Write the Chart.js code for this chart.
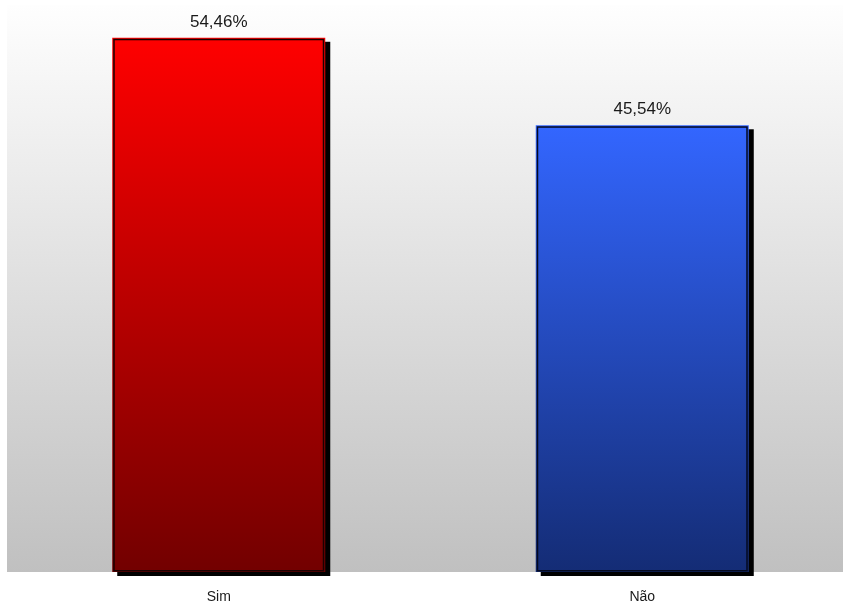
<!DOCTYPE html>
<html lang="pt">
<head>
<meta charset="utf-8">
<title>Sim / Não</title>
<script src="https://cdn.jsdelivr.net/npm/chart.js@4.4.1/dist/chart.umd.min.js"></script>
<style>
  html, body { margin: 0; padding: 0; background: #ffffff; overflow: hidden; }
  #wrap { width: 854px; height: 605px; }
</style>
</head>
<body>
<div id="wrap"><canvas id="chart" width="854" height="605"></canvas></div>
<script>
// Respostas (percentual)
const categories = ['Sim', 'Não'];
const values = [54.46, 45.54];
const topColors = ['#ff0000', '#3366ff'];
const bottomColors = ['#720000', '#142c75'];
const edgeColors = ['#1a0000', '#050a20'];

function pctLabel(v) {
  return v.toFixed(2).replace('.', ',') + '%';
}

// Vertical grey gradient behind the plot area
const plotBackground = {
  id: 'plotBackground',
  beforeDraw(chart) {
    const { ctx, chartArea: a } = chart;
    const g = ctx.createLinearGradient(0, a.top, 0, a.bottom);
    g.addColorStop(0, '#fefefe');
    g.addColorStop(1, '#c0c0c0');
    ctx.save();
    ctx.fillStyle = g;
    ctx.fillRect(a.left, a.top, a.right - a.left, a.bottom - a.top);
    ctx.restore();
  }
};

// Hard drop shadow behind each bar, dark outline, and value labels above
const barDecor = {
  id: 'barDecor',
  beforeDatasetsDraw(chart) {
    const { ctx } = chart;
    const meta = chart.getDatasetMeta(0);
    ctx.save();
    ctx.fillStyle = '#000000';
    meta.data.forEach(bar => {
      const left = bar.x - bar.width / 2;
      ctx.fillRect(left + 5, bar.y + 4, bar.width, bar.base - bar.y);
    });
    ctx.restore();
  },
  afterDatasetsDraw(chart) {
    const { ctx } = chart;
    const meta = chart.getDatasetMeta(0);
    ctx.save();
    meta.data.forEach((bar, i) => {
      const left = bar.x - bar.width / 2;
      ctx.strokeStyle = edgeColors[i];
      ctx.lineWidth = 1.5;
      ctx.strokeRect(left + 1.75, bar.y + 1.75, bar.width - 3.5, bar.base - bar.y - 3);
      ctx.fillStyle = '#1a1a1a';
      ctx.font = '17px "Liberation Sans", Arial, sans-serif';
      ctx.textAlign = 'center';
      ctx.textBaseline = 'alphabetic';
      ctx.fillText(pctLabel(values[i]), bar.x, bar.y - 11);
    });
    ctx.restore();
  }
};

function barGradient(context) {
  const chart = context.chart;
  const i = context.dataIndex;
  if (!chart.chartArea || !chart.scales.y) return topColors[i];
  const y = chart.scales.y;
  const top = y.getPixelForValue(values[i]);
  const bottom = y.getPixelForValue(0);
  const g = chart.ctx.createLinearGradient(0, top, 0, bottom);
  g.addColorStop(0, topColors[i]);
  g.addColorStop(1, bottomColors[i]);
  return g;
}

new Chart(document.getElementById('chart'), {
  type: 'bar',
  data: {
    labels: categories,
    datasets: [{
      data: values,
      backgroundColor: barGradient,
      borderWidth: 0,
      categoryPercentage: 1,
      barPercentage: 0.503
    }]
  },
  options: {
    responsive: false,
    animation: false,
    layout: { padding: { left: 7, top: 5, right: 0, bottom: 0 } },
    plugins: { legend: { display: false }, tooltip: { enabled: false } },
    scales: {
      y: { display: false, min: 0, max: 57.8 },
      x: {
        grid: { display: false, drawTicks: false },
        border: { display: false },
        ticks: {
          color: '#1a1a1a',
          padding: 17,
          font: { family: '"Liberation Sans", Arial, sans-serif', size: 14 }
        },
        afterFit(scale) { scale.height = 33; }
      }
    }
  },
  plugins: [plotBackground, barDecor]
});
</script>
</body>
</html>
